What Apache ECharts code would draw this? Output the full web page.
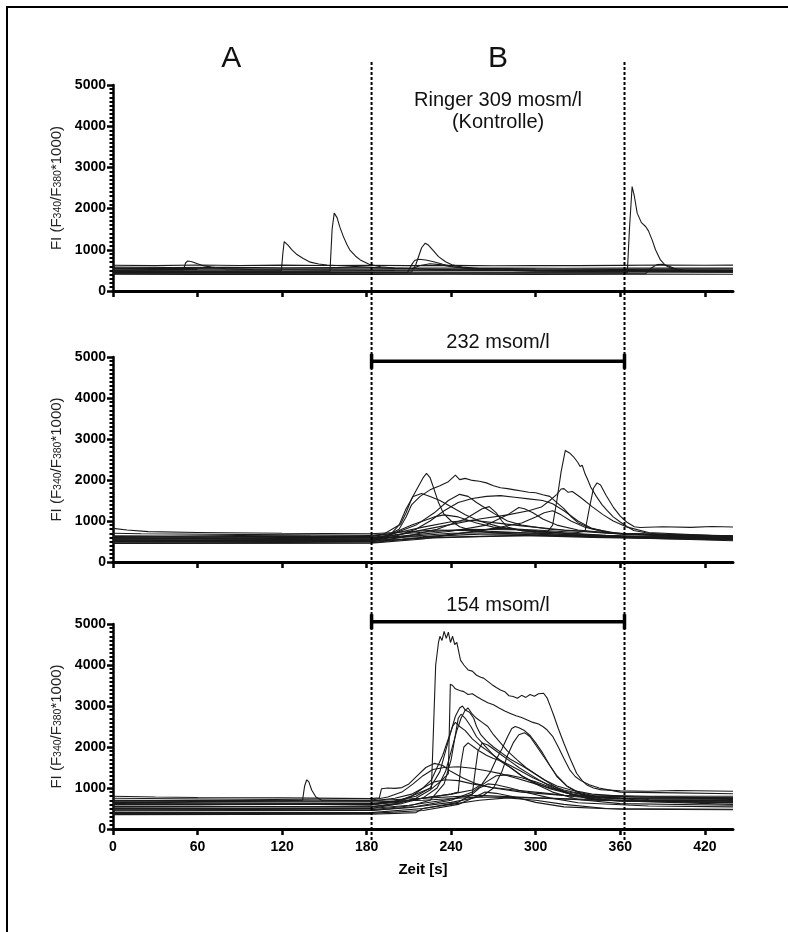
<!DOCTYPE html>
<html><head><meta charset="utf-8">
<script src="https://cdn.jsdelivr.net/npm/echarts@6/dist/echarts.min.js"></script>
<style>html,body{margin:0;padding:0;background:#fff}#c{width:788px;height:932px}</style>
</head><body><div id="c"></div>
<script>
// ---------- data ----------
const xTicks = [0, 60, 120, 180, 240, 300, 360, 420];
const xRange = [0, 440];
const yRange = [0, 5000];
const yStep = 1000;
const switchTimes = [183.5, 363];
const bracket232 = 4895;
const bracket154 = 5055;
const panelHeads = ['A', 'B'];
const ringerText = ['Ringer 309 mosm/l', '(Kontrolle)'];
const barTexts = ['232 msom/l', '154 msom/l'];
const yName = '{a|FI (F}{b|340}{a|/F}{b|380}{a|*1000)}';
const xName = 'Zeit [s]';

// Panel 1: Ringer 309 mosm/l (Kontrolle)
const kontrolle = [
 [[0,625],[30,615],[60,630],[90,620],[120,628],[150,618],[180,625],[210,615],[240,622],[270,612],[300,620],[330,615],[360,622],[390,630],[420,625],[440,628]],
 [[0,580],[40,570],[80,575],[120,565],[160,572],[200,560],[240,555],[280,560],[320,552],[360,555],[400,560],[440,555]],
 [[0,550],[50,545],[100,540],[150,538],[200,535],[212,540],[218,620],[225,660],[232,640],[240,590],[255,550],[300,530],[360,525],[440,530]],
 [[0,530],[60,520],[120,515],[180,510],[240,505],[300,500],[360,505],[440,500]],
 [[0,505],[30,508],[50,512],[51.5,680],[53,730],[56,710],[60,660],[64,615],[70,580],[80,540],[100,515],[150,505],[200,498],[300,490],[440,485]],
 [[0,495],[60,490],[119.5,495],[120.5,900],[121.5,1200],[124,1120],[127,1000],[130,900],[135,790],[140,700],[146,655],[152,632],[165,605],[180,580],[200,545],[240,520],[300,505],[440,495]],
 [[0,475],[80,478],[154,482],[155.5,1500],[157,1890],[159,1780],[161,1550],[163.5,1320],[166,1130],[168,1000],[172,850],[175.5,755],[182.5,640],[190,590],[200,560],[230,520],[300,490],[440,480]],
 [[0,460],[100,462],[212,465],[215,650],[217,850],[219,1050],[221.6,1160],[224,1110],[227,990],[231,835],[236,710],[240.5,635],[248,580],[260,545],[300,500],[440,470]],
 [[0,445],[100,448],[209,450],[212,640],[214,740],[216.8,772],[222,752],[227.5,712],[234,650],[241.6,590],[255,530],[300,480],[440,455]],
 [[0,435],[120,438],[240,440],[365,442],[366.5,1500],[368.4,2535],[370,2300],[372,1890],[375,1660],[378,1565],[380,1460],[382.6,1240],[385,1000],[388.5,755],[392,625],[395.6,555],[405,505],[420,490],[440,485]],
 [[0,420],[200,418],[300,420],[378,422],[382,560],[386,640],[390,650],[394,610],[400,520],[410,470],[440,460]],
 [[0,405],[60,400],[120,410],[180,402],[240,405],[300,400],[360,410],[440,405]],
 [[0,470],[100,465],[200,460],[300,455],[440,460]]
];

// Panel 2: 232 msom/l
const hypo232 = [
 [[0,640],[40,630],[90,645],[140,630],[183,620],[192,680],[198,800],[204,920],[208,1200],[212,1550],[216,1800],[220,2050],[222.5,2160],[225,2060],[228,1760],[231,1450],[234.6,1180],[240,1000],[246,860],[255,770],[270,710],[300,660],[360,610],[400,580],[440,565]],
 [[0,560],[60,565],[120,555],[183,560],[195,650],[203,800],[208,1100],[212,1400],[218,1600],[225,1760],[232,1860],[238,1960],[243,2120],[246,2010],[250,2040],[255,1990],[260,1970],[265,1930],[270,1860],[275,1810],[280,1790],[285,1760],[290,1730],[295,1700],[300,1690],[305,1640],[310,1600],[315,1450],[320,1300],[325,1110],[330,960],[340,810],[360,690],[400,620],[440,600]],
 [[0,520],[60,525],[120,518],[183,530],[200,600],[240,700],[280,720],[300,700],[308,720],[312,900],[315,1500],[318,2200],[321,2720],[324,2660],[327,2560],[330,2420],[331.5,2330],[333,2360],[335,2150],[337,2000],[339,1830],[343,1600],[347,1400],[350.6,1260],[355,1100],[360,975],[365,860],[369.5,770],[380,700],[400,660],[440,640]],
 [[0,600],[60,610],[120,598],[183,600],[210,700],[250,800],[300,780],[330,720],[335,750],[338,1300],[341,1800],[343.5,1930],[346,1880],[350,1620],[355,1340],[360,1120],[364.5,975],[370,860],[374,840],[390,860],[410,845],[425,865],[440,855]],
 [[0,580],[60,585],[120,575],[183,580],[200,650],[230,850],[260,1050],[280,1150],[295,1250],[304,1340],[310,1500],[315,1650],[318,1780],[320,1790],[323,1700],[326,1720],[331.7,1580],[340,1350],[348,1150],[355,1000],[365,850],[380,720],[440,620]],
 [[0,500],[60,505],[120,495],[183,510],[195,600],[203,900],[208,1300],[213,1600],[219,1670],[225,1600],[232,1500],[240,1350],[250,1150],[260,1000],[275,850],[300,720],[340,620],[440,560]],
 [[0,540],[60,535],[120,545],[183,540],[200,620],[215,800],[225,1000],[235,1250],[245,1450],[255,1550],[265,1600],[275,1620],[285,1580],[295,1540],[305,1500],[312,1420],[320,1250],[330,1000],[340,820],[355,700],[440,600]],
 [[0,620],[60,615],[120,625],[183,620],[200,700],[215,900],[228,1200],[238,1500],[246,1650],[252,1600],[258,1450],[265,1300],[272,1150],[280,1000],[290,900],[310,800],[350,700],[440,620]],
 [[0,480],[60,485],[120,478],[183,490],[205,600],[230,800],[250,1050],[262,1300],[267,1350],[272,1200],[276,1000],[280,850],[290,760],[320,700],[360,620],[440,560]],
 [[0,560],[183,560],[210,650],[240,750],[265,900],[280,1150],[288,1330],[292,1300],[298,1200],[305,1050],[315,900],[330,780],[360,680],[440,600]],
 [[0,460],[183,470],[220,600],[260,750],[290,950],[300,1100],[306,1200],[312,1250],[318,1150],[325,1000],[335,850],[350,720],[440,560]],
 [[0,700],[20,690],[183,650],[200,700],[220,850],[240,980],[255,1020],[270,960],[290,880],[320,780],[360,700],[440,640]],
 [[0,450],[183,460],[220,560],[250,720],[270,820],[290,800],[320,700],[360,600],[440,520]],
 [[0,820],[10,780],[25,740],[60,720],[120,700],[183,690],[200,720],[230,780],[260,760],[300,700],[360,620],[440,580]],
 [[0,520],[183,520],[195,620],[205,800],[212,900],[220,1000],[228,1100],[235,1150],[245,1100],[258,950],[270,850],[300,750],[350,650],[440,580]],
 [[0,500],[183,500],[220,580],[260,620],[300,650],[340,620],[440,560]],
 [[0,580],[183,590],[220,620],[260,680],[300,680],[340,620],[440,600]],
 [[0,530],[183,530],[205,560],[230,600],[290,650],[340,600],[440,540]]
];

// Panel 3: 154 msom/l
const hypo154 = [
 [[0,600],[60,590],[120,610],[183,580],[195,640],[205,720],[215,850],[222,950],[226,1000],[227.5,2500],[229,4000],[231,4550],[232,4700],[233.5,4600],[235,4820],[236.5,4650],[238,4800],[239.5,4550],[241,4700],[242.5,4500],[244,4550],[246.6,4120],[249,4000],[252,3880],[255,3850],[258,3750],[261,3700],[263,3680],[266,3600],[269,3520],[272,3450],[275,3390],[278,3350],[281,3250],[284,3230],[287,3190],[290,3260],[293,3210],[296,3280],[299,3240],[302,3300],[305.6,3310],[308,3200],[310.4,2990],[313,2750],[316,2450],[320,2090],[324,1750],[329,1360],[333,1180],[336,1080],[341,1000],[346,960],[360,930],[380,920],[400,940],[440,920]],
 [[0,520],[183,500],[200,600],[215,750],[225,950],[232,1150],[236,1280],[238,1350],[239.4,3530],[241,3500],[243,3420],[246,3380],[249,3350],[252,3280],[255,3300],[258,3230],[262,3150],[266,3080],[270,3030],[274,2950],[278,2880],[282,2820],[286,2760],[290,2720],[294,2660],[298,2600],[302,2560],[305,2500],[308,2420],[312,2260],[316,2000],[320,1720],[324,1450],[328,1280],[332,1180],[338,1080],[345,1000],[360,900],[400,880],[440,860]],
 [[0,650],[183,620],[200,680],[215,800],[225,1000],[232,1400],[236,1900],[240,2400],[243,2750],[246,2950],[248,3000],[250,2900],[252,2950],[255,2800],[258,2700],[262,2600],[266,2500],[270,2300],[275,2100],[280,1900],[287,1680],[293,1500],[299,1360],[306,1200],[315,1050],[325,950],[340,850],[370,780],[440,760]],
 [[0,560],[183,540],[205,620],[220,760],[230,1000],[236,1400],[240,1900],[244,2400],[247,2700],[250,2900],[253,2850],[256,2700],[258,2500],[261,2300],[265,2150],[270,2000],[276,1850],[282,1700],[290,1550],[298,1380],[306,1200],[315,1000],[325,850],[340,720],[380,680],[440,650]],
 [[0,480],[183,470],[210,560],[225,700],[235,1100],[240,1700],[243,2300],[245,2700],[247,2800],[250,2700],[254,2500],[258,2250],[262,2100],[266,1950],[270,1800],[275,1650],[282,1500],[290,1300],[300,1100],[312,900],[330,720],[360,620],[440,580]],
 [[0,600],[183,600],[210,700],[240,850],[255,950],[262,1100],[268,1400],[272,1700],[276,1950],[280,2250],[283,2450],[285.5,2500],[288,2470],[292,2400],[296,2280],[300,2100],[305,1850],[310,1550],[315,1280],[322,1050],[330,900],[345,780],[380,720],[440,700]],
 [[0,440],[183,450],[210,520],[240,650],[262,800],[270,1000],[276,1400],[280,1800],[284,2100],[288,2300],[292,2350],[296,2250],[300,2050],[305,1800],[310,1550],[315,1300],[322,1050],[332,850],[350,700],[440,640]],
 [[0,700],[183,680],[200,750],[212,850],[220,1000],[226,1200],[230,1500],[234,1800],[238,2200],[241,2500],[243,2600],[246,2500],[250,2400],[255,2200],[260,2050],[266,1900],[272,1750],[278,1600],[284,1450],[290,1300],[298,1150],[310,980],[325,850],[350,750],[440,720]],
 [[0,620],[183,600],[205,660],[225,780],[240,850],[245,900],[247,1600],[249,2000],[252,2100],[256,2000],[260,1900],[265,1800],[270,1720],[276,1650],[282,1550],[290,1400],[298,1250],[308,1100],[320,950],[340,800],[440,760]],
 [[0,500],[183,500],[210,580],[235,700],[250,800],[255,850],[257,1400],[259,1900],[262,2100],[266,2050],[270,1950],[276,1800],[282,1650],[288,1500],[295,1350],[302,1200],[310,1050],[320,900],[335,760],[360,680],[440,640]],
 [[0,750],[183,700],[195,780],[205,900],[213,1100],[220,1300],[227,1450],[235,1500],[245,1520],[255,1480],[265,1420],[275,1350],[285,1250],[300,1100],[315,950],[335,830],[380,800],[440,800]],
 [[0,550],[183,540],[200,620],[212,800],[220,1000],[228,1150],[236,1200],[245,1180],[255,1100],[268,1020],[285,950],[305,880],[330,780],[380,700],[440,680]],
 [[0,800],[30,780],[60,770],[120,760],[183,740],[189,760],[190.5,980],[195,1000],[200,990],[205,1010],[210,1100],[216,1300],[222,1500],[228,1600],[234,1550],[240,1400],[248,1250],[258,1100],[270,1000],[290,900],[320,820],[360,760],[440,740]],
 [[0,460],[183,450],[215,550],[240,700],[255,900],[265,1150],[272,1300],[280,1320],[290,1250],[300,1150],[312,1000],[325,850],[345,700],[440,600]],
 [[0,400],[183,400],[220,500],[245,650],[255,850],[260,1000],[266,1100],[272,1080],[282,1000],[295,880],[310,760],[330,640],[380,560],[440,540]],
 [[0,380],[183,380],[220,450],[245,600],[258,800],[264,900],[272,870],[285,780],[300,650],[320,540],[360,480],[440,470]],
 [[0,350],[183,360],[200,380],[215,400],[220,500],[240,600],[260,700],[280,760],[300,700],[320,600],[350,500],[440,480]],
 [[0,680],[183,660],[220,700],[260,780],[300,760],[340,700],[440,680]],
 [[0,690],[60,700],[120,690],[134.5,700],[136,1050],[137.5,1200],[139,1150],[141,950],[144,780],[148,700],[183,690],[220,750],[260,820],[300,760],[360,700],[440,690]]
];

// ---------- chart ----------
const FONT = '"Liberation Sans", Arial, Helvetica, sans-serif';
const chart = echarts.init(document.getElementById('c'), null, {renderer: 'canvas'});

const grids = [
  {left: 113, top: 85, width: 620, height: 206},
  {left: 113, top: 357, width: 620, height: 205},
  {left: 113, top: 624, width: 620, height: 205}
].map(g => Object.assign({containLabel: false, outerBoundsMode: 'none'}, g));

function xAxisCfg(i) {
  return {
    gridIndex: i, type: 'value', min: xRange[0], max: xRange[1], interval: 60,
    axisLine: {show: true, onZero: false, lineStyle: {color: '#000', width: 3}},
    axisTick: {show: true, length: 6, customValues: xTicks, lineStyle: {color: '#000', width: 2.5}},
    axisLabel: {show: i === 2, customValues: xTicks, formatter: v => String(v), color: '#000', fontWeight: 'bold', fontSize: 14, fontFamily: FONT, margin: 11},
    splitLine: {show: false},
    name: i === 2 ? xName : '', nameLocation: 'middle', nameGap: 33,
    nameTextStyle: {color: '#000', fontWeight: 'bold', fontSize: 15, fontFamily: FONT}
  };
}
function yAxisCfg(i) {
  return {
    gridIndex: i, type: 'value', min: yRange[0], max: yRange[1], interval: yStep,
    axisLine: {show: true, onZero: false, lineStyle: {color: '#000', width: 2.5}},
    axisTick: {show: true, length: 6, lineStyle: {color: '#000', width: 2.5}},
    minorTick: {show: true, splitNumber: 10, length: 3.5, lineStyle: {color: '#000', width: 2}},
    axisLabel: {formatter: v => String(v), color: '#000', fontWeight: 'bold', fontSize: 14, fontFamily: FONT, margin: 7},
    splitLine: {show: false}, minorSplitLine: {show: false},
    name: yName, nameLocation: 'middle', nameGap: 44, nameRotate: 90,
    nameTextStyle: {
      color: '#222', fontFamily: FONT,
      rich: {
        a: {fontSize: 15, fontFamily: FONT, color: '#222', lineHeight: 22, verticalAlign: 'bottom'},
        b: {fontSize: 10.5, fontFamily: FONT, color: '#222', lineHeight: 8, verticalAlign: 'bottom'}
      }
    }
  };
}

function traces(list, gi) {
  return list.map(d => ({
    type: 'line', xAxisIndex: gi, yAxisIndex: gi, data: d,
    symbol: 'none', showSymbol: false, silent: true, animation: false,
    lineStyle: {color: '#1a1a1a', width: 1.1}, z: 2
  }));
}
function bracket(gi, level) {
  return {
    type: 'line', xAxisIndex: gi, yAxisIndex: gi, clip: false,
    data: switchTimes.map(t => [t, level]),
    symbol: 'rect', symbolSize: [3.5, 15], showSymbol: true, showAllSymbol: true,
    itemStyle: {color: '#000'}, lineStyle: {color: '#000', width: 3.5},
    silent: true, animation: false, z: 5
  };
}

const series = [].concat(
  traces(kontrolle, 0), traces(hypo232, 1), traces(hypo154, 2),
  [bracket(1, bracket232), bracket(2, bracket154)]
);

chart.setOption({
  animation: false,
  backgroundColor: '#fff',
  grid: grids,
  xAxis: [0, 1, 2].map(xAxisCfg),
  yAxis: [0, 1, 2].map(yAxisCfg),
  series: series
});

// decorations placed through the axis scales
const xs = switchTimes.map(t => chart.convertToPixel({xAxisIndex: 0}, t));
const xB = chart.convertToPixel({xAxisIndex: 0}, (switchTimes[0] + switchTimes[1]) / 2);
const xA = chart.convertToPixel({xAxisIndex: 0}, 84);
const txt = (x, y, s, size, weight) => ({
  type: 'text', x: x, y: y, silent: true, z: 10,
  style: {text: s, fill: '#111', font: (weight || 'normal') + ' ' + size + 'px ' + FONT, textAlign: 'center', textVerticalAlign: 'middle'}
});
const graphics = [
  {type: 'rect', shape: {x: 7, y: 7, width: 820, height: 960}, style: {fill: 'none', stroke: '#000', lineWidth: 2}, silent: true},
  txt(xA, 59, panelHeads[0], 30),
  txt(xB, 59, panelHeads[1], 30),
  txt(xB, 100, ringerText[0], 20),
  txt(xB, 122, ringerText[1], 20),
  txt(xB, 342, barTexts[0], 20),
  txt(xB, 605, barTexts[1], 20)
];
xs.forEach(x => graphics.push({
  type: 'line', silent: true, z: 8,
  shape: {x1: x, y1: 62, x2: x, y2: 840},
  style: {stroke: '#000', lineWidth: 2, lineDash: [3, 2]}
}));
chart.setOption({graphic: graphics});
</script>
</body></html>
